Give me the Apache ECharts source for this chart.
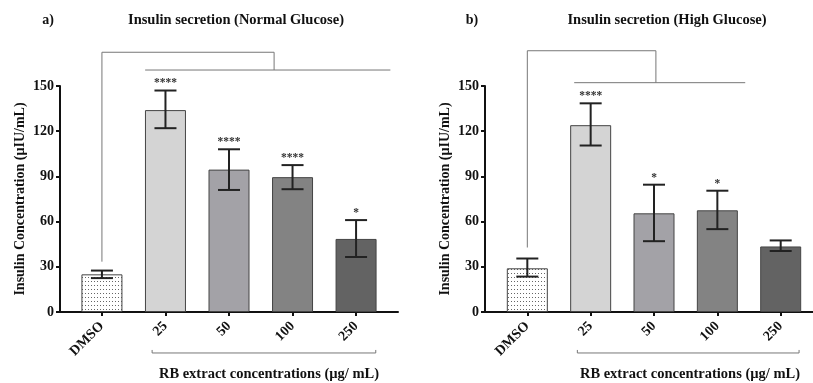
<!DOCTYPE html>
<html>
<head>
<meta charset="utf-8">
<script src="https://cdn.jsdelivr.net/npm/echarts@6/dist/echarts.min.js"></script>
<style>html,body{margin:0;padding:0;background:#fff;}#c{width:813px;height:383px;}</style>
</head>
<body>
<div id="c"></div>
<script>
const categories = ['DMSO', '25', '50', '100', '250'];
const yTicks = [0, 30, 60, 90, 120, 150];

const normalMean = [25, 134, 94.5, 89.5, 48.5];
const normalLow  = [22.5, 122, 81, 81.5, 36.5];
const normalHigh = [27.5, 147, 108, 97.5, 61];
const normalSig  = ['', '****', '****', '****', '*'];

const highMean = [29, 124, 65.5, 67.5, 43.5];
const highLow  = [23.5, 110.5, 47, 55, 40.5];
const highHigh = [35.5, 138.5, 84.5, 80.5, 47.5];
const highSig  = ['', '****', '*', '*', ''];

// comparison brackets (data coordinates)
const normalBracketA = [[0, 33.4], [0, 172.4], [2.71, 172.4], [2.71, 160.6]];
const normalBracketB = [[0.68, 160.6], [4.54, 160.6]];
const highBracketA = [[0, 42.8], [0, 173.4], [2.03, 173.4], [2.03, 152.2]];
const highBracketB = [[0.74, 152.2], [3.44, 152.2]];
const normalGroup = [[0.79, -25.2], [0.79, -27.2], [4.31, -27.2], [4.31, -25.2]];
const highGroup = [[0.79, -25.2], [0.79, -27.2], [4.29, -27.2], [4.29, -25.2]];

const FONT = '"Liberation Serif", "Times New Roman", serif';
const barColors = [null, '#d4d4d4', '#a3a2a7', '#838383', '#636363'];

// dotted pattern for DMSO bar
const pc = document.createElement('canvas');
pc.width = 3; pc.height = 4;
const pctx = pc.getContext('2d');
pctx.fillStyle = '#fff'; pctx.fillRect(0, 0, 3, 4);
pctx.fillStyle = '#666'; pctx.fillRect(1, 1, 1, 1);
const dotPattern = { image: pc, repeat: 'repeat' };

function barData(mean) {
  return mean.map((v, i) => ({
    value: [i, v],
    itemStyle: { color: i === 0 ? dotPattern : barColors[i], borderColor: '#444', borderWidth: 1 }
  }));
}

function errData(mean, low, high, sig) {
  return mean.map((v, i) => [i, low[i], high[i], sig[i]]);
}

function sigFor(params) {
  const arr = params.seriesName === 'errN' ? normalSig : highSig;
  return arr[params.dataIndex];
}

function renderErr(params, api) {
  const x = api.value(0);
  const lo = api.coord([x, api.value(1)]);
  const hi = api.coord([x, api.value(2)]);
  const half = 11;
  const st = { stroke: '#222', lineWidth: 2 };
  const children = [
    { type: 'line', shape: { x1: lo[0], y1: lo[1], x2: hi[0], y2: hi[1] }, style: st },
    { type: 'line', shape: { x1: hi[0] - half, y1: hi[1], x2: hi[0] + half, y2: hi[1] }, style: st },
    { type: 'line', shape: { x1: lo[0] - half, y1: lo[1], x2: lo[0] + half, y2: lo[1] }, style: st }
  ];
  const s = sigFor(params);
  if (s) {
    children.push({ type: 'text', style: { text: s, x: hi[0], y: hi[1] - 7, align: 'center', verticalAlign: 'middle', fill: '#333', font: 'bold 11.5px ' + FONT } });
  }
  return { type: 'group', children };
}

function xAxis(gi, max) {
  return {
    type: 'value', gridIndex: gi, min: gi === 0 ? -0.66 : -0.668, max: max,
    splitLine: { show: false },
    axisLine: { show: true, onZero: false, lineStyle: { color: '#111', width: 2 } },
    axisTick: { show: true, length: 4, customValues: [0, 1, 2, 3, 4], lineStyle: { color: '#111', width: 2 } },
    axisLabel: {
      customValues: [0, 1, 2, 3, 4], rotate: 45, margin: 12,
      formatter: v => categories[Math.round(v)],
      fontFamily: FONT, fontWeight: 'bold', fontSize: 14, color: '#111'
    }
  };
}
function yAxis(gi) {
  return {
    type: 'value', gridIndex: gi, min: 0, max: 150, interval: 30,
    name: 'Insulin Concentration (µIU/mL)', nameLocation: 'middle', nameGap: 33,
    nameTextStyle: { fontFamily: FONT, fontWeight: 'bold', fontSize: 14, color: '#111' },
    splitLine: { show: false },
    axisLine: { show: true, onZero: false, lineStyle: { color: '#111', width: 2 } },
    axisTick: { show: true, length: 4, lineStyle: { color: '#111', width: 2 } },
    axisLabel: { margin: 6, fontFamily: FONT, fontWeight: 'bold', fontSize: 14, color: '#111',
      formatter: v => (yTicks.indexOf(v) >= 0 ? String(v) : '') }
  };
}
function lineSeries(xi, data) {
  return { type: 'line', xAxisIndex: xi, yAxisIndex: xi, data, symbol: 'none', clip: false,
    lineStyle: { color: '#777', width: 1 }, silent: true, animation: false, z: 1 };
}

const chart = echarts.init(document.getElementById('c'), null, { renderer: 'canvas' });
chart.setOption({
  animation: false,
  backgroundColor: '#fff',
  grid: [
    { left: 60, top: 86, width: 338, bottom: 71 },
    { left: 485, top: 86, width: 328, bottom: 71 }
  ],
  xAxis: [xAxis(0, 4.66), xAxis(1, 4.51)],
  yAxis: [yAxis(0), yAxis(1)],
  graphic: [
    { type: 'text', x: 48, y: 20, style: { text: 'a)', font: 'bold 14px ' + FONT, fill: '#111', align: 'center', verticalAlign: 'middle' } },
    { type: 'text', x: 236, y: 20, style: { text: 'Insulin secretion (Normal Glucose)', font: 'bold 14.5px ' + FONT, fill: '#111', align: 'center', verticalAlign: 'middle' } },
    { type: 'text', x: 472, y: 20, style: { text: 'b)', font: 'bold 14px ' + FONT, fill: '#111', align: 'center', verticalAlign: 'middle' } },
    { type: 'text', x: 667, y: 20, style: { text: 'Insulin secretion (High Glucose)', font: 'bold 14.5px ' + FONT, fill: '#111', align: 'center', verticalAlign: 'middle' } },
    { type: 'text', x: 269, y: 374, style: { text: 'RB extract concentrations (µg/ mL)', font: 'bold 14.5px ' + FONT, fill: '#111', align: 'center', verticalAlign: 'middle' } },
    { type: 'text', x: 690, y: 374, style: { text: 'RB extract concentrations (µg/ mL)', font: 'bold 14.5px ' + FONT, fill: '#111', align: 'center', verticalAlign: 'middle' } }
  ],
  series: [
    { type: 'bar', name: 'barN', xAxisIndex: 0, yAxisIndex: 0, barWidth: 41, data: barData(normalMean), z: 2 },
    { type: 'custom', name: 'errN', xAxisIndex: 0, yAxisIndex: 0, renderItem: renderErr, data: errData(normalMean, normalLow, normalHigh, normalSig), clip: false, z: 3 },
    lineSeries(0, normalBracketA), lineSeries(0, normalBracketB), lineSeries(0, normalGroup),
    { type: 'bar', name: 'barH', xAxisIndex: 1, yAxisIndex: 1, barWidth: 41, data: barData(highMean), z: 2 },
    { type: 'custom', name: 'errH', xAxisIndex: 1, yAxisIndex: 1, renderItem: renderErr, data: errData(highMean, highLow, highHigh, highSig), clip: false, z: 3 },
    lineSeries(1, highBracketA), lineSeries(1, highBracketB), lineSeries(1, highGroup)
  ]
});
</script>
</body>
</html>
